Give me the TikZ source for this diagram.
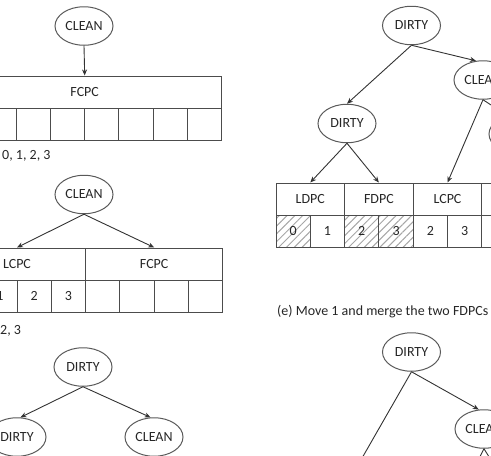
\documentclass[tikz,border=0pt]{standalone}
\usepackage{fontspec}
\setmainfont{Carlito}
\usetikzlibrary{arrows.meta, positioning, calc, shapes.geometric, patterns.meta}

\begin{document}
\begin{tikzpicture}[
  x=1pt, y=1pt,
  >={Stealth[length=6pt, width=5pt]},
  every node/.style={font=\fontsize{14}{16}\selectfont, text=black!85},
  % --- node styles ---
  stnode/.style={
    ellipse, draw=black!65, line width=1pt,
    minimum width=58pt, minimum height=38.5pt, inner sep=0pt,
  },
  hdbox/.style={
    draw=black!70, line width=1pt,
    minimum height=32pt, inner sep=0pt,
  },
  cellbox/.style={
    draw=black!70, line width=1pt,
    minimum width=\cw*1pt, minimum height=32pt, inner sep=0pt,
  },
  hatched/.style={
    cellbox, pattern={Lines[angle=45, distance=5.5pt, line width=1pt]},
    pattern color=gray!70,
  },
  arr/.style={->, line width=0.9pt, draw=black!80},
  captext/.style={anchor=west, inner sep=0pt},
]

% === Layout constants ===
\def\cw{34.3}   % cell width

\useasboundingbox (0,0) rectangle (491,-456);
\clip (0,0) rectangle (491,-456);

% ---------- Left, row 1: one CLEAN node over a single FCPC ----------
\node[stnode] (cleanA) at (84,-26) {CLEAN};

\node[hdbox, minimum width=8*\cw*1pt] (fcpcA) at (84.7,-92) {FCPC};
\foreach \i in {0,...,7}
  \node[cellbox] (a\i) at ({-52.6+(\i+0.5)*\cw},-124) {};

\draw[arr] (cleanA.south) -- (fcpcA.north);

\node[captext] (capA) at (2,-156) {0, 1, 2, 3};

% ---------- Left, row 2: CLEAN splits into LCPC + FCPC ----------
\node[stnode] (cleanB) at (84,-194.5) {CLEAN};

\node[hdbox, minimum width=4*\cw*1pt] (lcpcB) at (17,-264) {LCPC};
\node[hdbox, minimum width=4*\cw*1pt] (fcpcB) at (154.2,-264) {FCPC};
\foreach \i in {0,...,3}
  \node[cellbox] (b\i) at ({-51.6+(\i+0.5)*\cw},-296) {\i};
\foreach \i in {4,...,7}
  \node[cellbox] (b\i) at ({-51.6+(\i+0.5)*\cw},-296) {};

\draw[arr] (cleanB.south) -- (lcpcB.north);
\draw[arr] (cleanB.south) -- (fcpcB.north);

\node[captext] (capB) at (0,-331) {2, 3};

% ---------- Left, row 3: DIRTY root ----------
\node[stnode] (dirtyC) at (83,-367) {DIRTY};
\node[stnode] (dirtyCl) at (17,-437) {DIRTY};
\node[stnode] (cleanCr) at (154,-437) {CLEAN};

\draw[arr] (dirtyC.south) -- (dirtyCl.80);
\draw[arr] (dirtyC.south) -- (cleanCr.100);

% ---------- Right, top: tree over LDPC / FDPC / LCPC ----------
\node[stnode] (dirtyD) at (411.5,-25.5) {DIRTY};
\node[stnode] (dirtyDl) at (347,-123.5) {DIRTY};
\node[stnode] (cleanDr) at (483,-80) {CLEAN};
\node[stnode] (nodeDrr) at (518,-134) {};

\node[hdbox, minimum width=2*\cw*1pt] (ldpcD) at (310.3,-199) {LDPC};
\node[hdbox, minimum width=2*\cw*1pt] (fdpcD) at (378.9,-199) {FDPC};
\node[hdbox, minimum width=2*\cw*1pt] (lcpcD) at (447.5,-199) {LCPC};
\node[hdbox, minimum width=2*\cw*1pt] (restD) at (516.1,-199) {};

% cells: hatched = dirty
\node[hatched]  (d0) at (293.15,-231) {0};
\node[cellbox]  (d1) at (327.45,-231) {1};
\node[hatched]  (d2) at (361.75,-231) {2};
\node[hatched]  (d3) at (396.05,-231) {3};
\node[cellbox]  (d4) at (430.35,-231) {2};
\node[cellbox]  (d5) at (464.65,-231) {3};
\node[cellbox]  (d6) at (498.95,-231) {};
\node[cellbox]  (d7) at (533.25,-231) {};

\draw[arr] (dirtyD.south) -- (dirtyDl.north);
\draw[arr] (dirtyD.south) -- (cleanDr.110);
\draw[arr] (dirtyDl.south) -- (ldpcD.north);
\draw[arr] (dirtyDl.south) -- (fdpcD.north);
\draw[arr] (cleanDr.south) -- (lcpcD.north);
\draw[arr] (cleanDr.south) -- (nodeDrr.120);

\node[captext] (capE) at (277,-312) {(e) Move 1 and merge the two FDPCs};

% ---------- Right, bottom: next tree (runs off the page) ----------
\node[stnode] (dirtyF) at (411.5,-352) {DIRTY};
\node[stnode] (cleanF) at (484,-429) {CLEAN};

\coordinate (leftF) at (338,-500);
\coordinate (midF) at (458,-500);
\coordinate (rightF) at (516,-500);

\draw[arr] (dirtyF.south) -- (cleanF.105);
\draw[arr] (dirtyF.south) -- (leftF);
\draw[arr] (cleanF.south) -- (midF);
\draw[arr] (cleanF.south) -- (rightF);

\end{tikzpicture}
\end{document}
